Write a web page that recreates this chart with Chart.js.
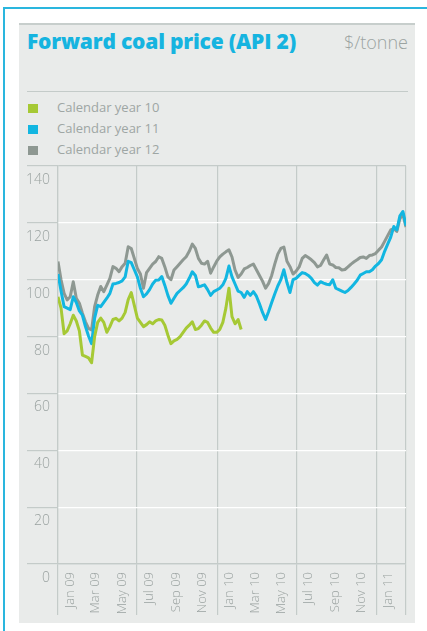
<!DOCTYPE html>
<html>
<head>
<meta charset="utf-8">
<title>Forward coal price (API 2)</title>
<script src="https://cdn.jsdelivr.net/npm/chart.js@4.4.0/dist/chart.umd.min.js"></script>
<style>
  html, body { margin: 0; padding: 0; background: #fff; }
  body { width: 427px; height: 631px; position: relative; overflow: hidden; font-family: 'Open Sans', sans-serif; }
  .frame { position: absolute; left: 3px; top: 7px; width: 460px; height: 660px; border-left: 2px solid #2ab6de; border-top: 2px solid #2ab6de; box-sizing: border-box; }
  .panel { position: absolute; left: 19px; top: 23px; width: 396px; height: 600px; background: #e9ebea; border-top: 2px solid #c7cecc; box-sizing: border-box; }
  .title { position: absolute; left: 27px; top: 28px; font-size: 21px; line-height: 26px; font-weight: 800; color: #16b4e0; letter-spacing: -0.2px; white-space: nowrap; }
  .unit { position: absolute; right: 19px; top: 30px; font-size: 18px; line-height: 24px; font-weight: 300; color: #9ba3a1; white-space: nowrap; }
  .rule { position: absolute; left: 27px; top: 91px; width: 381px; height: 1px; background: #c4cbc9; }
  .legend { position: absolute; left: 28px; top: 98px; }
  .legend div { height: 21px; line-height: 18px; font-size: 13px; font-weight: 400; color: #9ea6a4; white-space: nowrap; }
  .legend span { display: inline-block; width: 10px; height: 9px; margin-right: 19px; vertical-align: -1px; }
  #chart { position: absolute; left: 27px; top: 160px; }
</style>
</head>
<body>
<div class="frame"></div>
<div class="panel"></div>
<div class="title">Forward coal price (API 2)</div>
<div class="unit">$/tonne</div>
<div class="rule"></div>
<div class="legend" id="legend"></div>
<canvas id="chart" width="381" height="462"></canvas>
<script>
// series, one value per week starting 1 Jan 2009
const seriesLabels = ['Calendar year 10', 'Calendar year 11', 'Calendar year 12'];
const seriesColors = ['#a6c935', '#12b6e1', '#8e9892'];

const cy10 = [94, 90, 81, 82, 84.5, 87.5, 85.5, 82, 73.5, 73,
  72.5, 70.8, 80, 85, 86.5, 85, 81.5, 83.5, 86, 86.4,
  85.5, 86.5, 88.5, 93, 95.5, 91, 86.5, 85, 83.5, 84.2,
  85.2, 84.5, 85.5, 86, 85.8, 84, 80.5, 77.5, 78.5, 79,
  80, 81.5, 83, 84, 85.2, 82.5, 82.8, 84, 85.5, 85,
  83, 81.5, 81.5, 82.5, 85, 90, 97, 87, 84.5, 86,
  82.5];

const cy11 = [102, 96, 90.5, 90, 89.5, 94, 92, 89, 87.5, 83.5,
  80.2, 77.5, 86.5, 91, 90.5, 92, 93.5, 95.2, 98.5, 98.7,
  99, 99.6, 101, 106.5, 106, 103.5, 101, 97, 94, 95,
  96.5, 98.5, 99.8, 99.9, 101.1, 98, 94.5, 91.7, 93.5, 95.2,
  96.2, 97.2, 98.5, 100.5, 102.8, 101.5, 97.5, 97.8, 98.2, 96.5,
  94.5, 95.8, 96.4, 97, 98.2, 100.5, 104.8, 101, 98.5, 96,
  95.5, 93.8, 95.8, 94.5, 95.8, 94.2, 91.5, 88.5, 86, 88.8,
  92, 95, 97.8, 100, 103.5, 99, 95.5, 100, 100.5, 101.5,
  102.5, 102.2, 101.5, 100.5, 99, 98.1, 99.3, 98.8, 98.4, 98.2,
  100, 97, 96.5, 96, 95.5, 96.2, 97.3, 98.5, 99.8, 101.6,
  102.2, 102.8, 102.8, 103.5, 104.8, 105.7, 107, 110, 112.5, 115,
  118.7, 117.5, 122.5, 124, 119];

const cy12 = [106.4, 100, 95.2, 92.9, 94, 99.3, 93.5, 91.7, 88.2, 85.2,
  82.9, 82.3, 90.5, 94.6, 97.6, 95.8, 98.1, 100.5, 104.6, 104,
  102.8, 104.6, 105.8, 111.6, 111, 107.5, 104, 102, 97, 102.5,
  104, 105.5, 106.4, 108.1, 107.5, 104.5, 101, 100, 103.4, 104.6,
  105.8, 107, 108.1, 110, 112.5, 111, 107.5, 105.8, 105.5, 106.5,
  102.3, 104.5, 106.5, 108, 109, 109.8, 110.5, 108, 103.4, 100.8,
  102, 103.8, 104.3, 105, 105.5, 103.5, 101.5, 99.5, 97, 98.7,
  101.5, 105.5, 109, 111, 111.5, 106.5, 104.6, 102, 103, 104.5,
  107.5, 108.5, 107.8, 107, 106, 104.5, 105, 106.9, 108.7, 105.5,
  105.2, 104.3, 104.2, 103.4, 103.6, 104.5, 105.5, 106.3, 107, 107.8,
  108, 107.5, 108.5, 108.7, 109.2, 110.4, 111.5, 113.5, 115.5, 117.5,
  118, 117, 121.5, 123, 118.5];

const monthLabels = ['Jan 09', 'Mar 09', 'May 09', 'Jul 09', 'Sep 09', 'Nov 09',
  'Jan 10', 'Mar 10', 'May 10', 'Jul 10', 'Sep 10', 'Nov 10', 'Jan 11'];
const monthDates = ['2009-01-01', '2009-03-01', '2009-05-01', '2009-07-01', '2009-09-01', '2009-11-01',
  '2010-01-01', '2010-03-01', '2010-05-01', '2010-07-01', '2010-09-01', '2010-11-01', '2011-01-01'];
const gridMonths = ['Jan', 'Jul'];
const firstDate = '2009-01-01';
const lastDate = '2011-03-10';
const yTicks = [0, 20, 40, 60, 80, 100, 120, 140];

const GRID = '#c4cbc9';
const TEXT = '#9aa2a0';

function dayOf(d) {
  return (Date.parse(d) - Date.parse(firstDate)) / 86400000;
}

function weekly(values) {
  return values.map((v, i) => ({ x: i * 7, y: v }));
}

// legend
const legend = document.getElementById('legend');
seriesLabels.forEach((label, i) => {
  const row = document.createElement('div');
  const box = document.createElement('span');
  box.style.background = seriesColors[i];
  row.appendChild(box);
  row.appendChild(document.createTextNode(label));
  legend.appendChild(row);
});

const tickDays = monthDates.map(dayOf);
const maxDay = dayOf(lastDate);

function showGrid(index) {
  if (index >= monthLabels.length) return true;
  return gridMonths.includes(monthLabels[index].slice(0, 3));
}

const allSeries = [cy10, cy11, cy12];

new Chart(document.getElementById('chart'), {
  type: 'line',
  data: {
    datasets: allSeries.map((s, i) => ({
      label: seriesLabels[i],
      data: weekly(s),
      borderColor: seriesColors[i],
      backgroundColor: seriesColors[i],
      borderWidth: 3,
      pointRadius: 0,
      tension: 0,
      borderJoinStyle: 'round'
    }))
  },
  options: {
    responsive: false,
    devicePixelRatio: 1,
    animation: false,
    layout: { padding: { top: 6, right: 2, left: 0, bottom: 0 } },
    plugins: {
      legend: { display: false },
      tooltip: { enabled: false }
    },
    scales: {
      x: {
        type: 'linear',
        min: 0,
        max: maxDay,
        afterBuildTicks: (scale) => {
          scale.ticks = tickDays.map(v => ({ value: v })).concat([{ value: maxDay }]);
        },
        afterFit: (scale) => { scale.height = 58; },
        grid: {
          color: (ctx) => showGrid(ctx.index) ? GRID : 'rgba(0,0,0,0)',
          lineWidth: 1.2,
          tickLength: 51
        },
        border: { display: true, color: GRID, width: 1.2 },
        ticks: {
          autoSkip: false,
          minRotation: 90,
          maxRotation: 90,
          padding: -43,
          labelOffset: 12,
          color: TEXT,
          font: { family: 'Open Sans', size: 13, weight: 300 },
          callback: (value, index) => index < monthLabels.length ? monthLabels[index] : ''
        }
      },
      y: {
        min: 0,
        max: 140,
        afterBuildTicks: (scale) => {
          scale.ticks = yTicks.map(v => ({ value: v }));
        },
        afterFit: (scale) => { scale.width = 31; },
        grid: {
          color: (ctx) => (ctx.tick && (ctx.tick.value === 0 || ctx.tick.value === 140)) ? GRID : '#ffffff',
          tickColor: GRID,
          lineWidth: 1.2,
          tickLength: 31
        },
        border: { display: true, color: GRID, width: 1.2 },
        ticks: {
          padding: -23,
          labelOffset: 14,
          color: TEXT,
          font: { family: 'Open Sans', size: 14, weight: 300 }
        }
      }
    }
  }
});
</script>
</body>
</html>
